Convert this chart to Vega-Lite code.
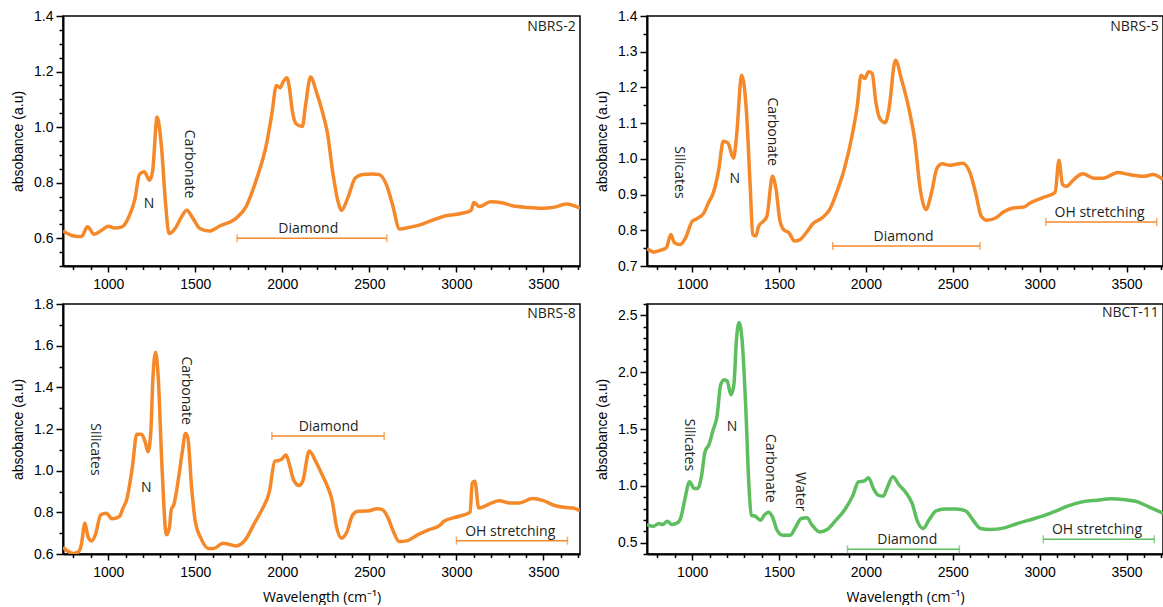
{
  "$schema": "https://vega.github.io/schema/vega-lite/v6.json",
  "padding": {"left": 10, "top": 8, "right": 0, "bottom": 0},
  "bounds": "flush",
  "columns": 2,
  "spacing": {"row": 38, "column": 67},
  "config": {
    "view": {"stroke": "#000", "strokeWidth": 1.5},
    "axis": {"domainColor": "#000", "domainWidth": 2, "tickColor": "#000", "tickWidth": 1.5, "labelFont": "Liberation Sans", "labelFontSize": 14, "labelColor": "#000", "titleFont": "Liberation Sans", "titleFontSize": 14, "titleFontWeight": "normal", "titleColor": "#000", "grid": false, "labelOverlap": false, "labelFlush": false},
    "text": {"font": "Open Sans", "fontSize": 14, "color": "#231F20"}
  },
  "datasets": {
    "spectra": [
      {"sample":"NBRS-2","w":740,"a":0.626},{"sample":"NBRS-2","w":802,"a":0.608},{"sample":"NBRS-2","w":845,"a":0.606},{"sample":"NBRS-2","w":881,"a":0.641},{"sample":"NBRS-2","w":919,"a":0.614},{"sample":"NBRS-2","w":962,"a":0.629},{"sample":"NBRS-2","w":1000,"a":0.643},{"sample":"NBRS-2","w":1036,"a":0.637},{"sample":"NBRS-2","w":1079,"a":0.641},{"sample":"NBRS-2","w":1121,"a":0.681},{"sample":"NBRS-2","w":1153,"a":0.741},{"sample":"NBRS-2","w":1179,"a":0.829},{"sample":"NBRS-2","w":1206,"a":0.839},{"sample":"NBRS-2","w":1238,"a":0.809},{"sample":"NBRS-2","w":1255,"a":0.843},{"sample":"NBRS-2","w":1281,"a":1.036},{"sample":"NBRS-2","w":1306,"a":0.927},{"sample":"NBRS-2","w":1328,"a":0.735},{"sample":"NBRS-2","w":1349,"a":0.617},{"sample":"NBRS-2","w":1387,"a":0.638},{"sample":"NBRS-2","w":1419,"a":0.675},{"sample":"NBRS-2","w":1451,"a":0.701},{"sample":"NBRS-2","w":1483,"a":0.675},{"sample":"NBRS-2","w":1526,"a":0.635},{"sample":"NBRS-2","w":1579,"a":0.626},{"sample":"NBRS-2","w":1643,"a":0.645},{"sample":"NBRS-2","w":1728,"a":0.669},{"sample":"NBRS-2","w":1791,"a":0.713},{"sample":"NBRS-2","w":1855,"a":0.819},{"sample":"NBRS-2","w":1909,"a":0.939},{"sample":"NBRS-2","w":1940,"a":1.048},{"sample":"NBRS-2","w":1966,"a":1.150},{"sample":"NBRS-2","w":1987,"a":1.142},{"sample":"NBRS-2","w":2004,"a":1.162},{"sample":"NBRS-2","w":2026,"a":1.178},{"sample":"NBRS-2","w":2040,"a":1.144},{"sample":"NBRS-2","w":2057,"a":1.060},{"sample":"NBRS-2","w":2079,"a":1.012},{"sample":"NBRS-2","w":2115,"a":1.002},{"sample":"NBRS-2","w":2132,"a":1.072},{"sample":"NBRS-2","w":2162,"a":1.180},{"sample":"NBRS-2","w":2196,"a":1.126},{"sample":"NBRS-2","w":2228,"a":1.060},{"sample":"NBRS-2","w":2260,"a":0.975},{"sample":"NBRS-2","w":2291,"a":0.831},{"sample":"NBRS-2","w":2319,"a":0.735},{"sample":"NBRS-2","w":2340,"a":0.701},{"sample":"NBRS-2","w":2377,"a":0.747},{"sample":"NBRS-2","w":2419,"a":0.817},{"sample":"NBRS-2","w":2462,"a":0.829},{"sample":"NBRS-2","w":2515,"a":0.831},{"sample":"NBRS-2","w":2557,"a":0.829},{"sample":"NBRS-2","w":2600,"a":0.789},{"sample":"NBRS-2","w":2632,"a":0.723},{"sample":"NBRS-2","w":2674,"a":0.633},{"sample":"NBRS-2","w":2728,"a":0.639},{"sample":"NBRS-2","w":2791,"a":0.648},{"sample":"NBRS-2","w":2855,"a":0.663},{"sample":"NBRS-2","w":2940,"a":0.681},{"sample":"NBRS-2","w":3026,"a":0.689},{"sample":"NBRS-2","w":3085,"a":0.701},{"sample":"NBRS-2","w":3100,"a":0.729},{"sample":"NBRS-2","w":3132,"a":0.714},{"sample":"NBRS-2","w":3196,"a":0.731},{"sample":"NBRS-2","w":3260,"a":0.728},{"sample":"NBRS-2","w":3323,"a":0.717},{"sample":"NBRS-2","w":3409,"a":0.711},{"sample":"NBRS-2","w":3494,"a":0.708},{"sample":"NBRS-2","w":3557,"a":0.711},{"sample":"NBRS-2","w":3632,"a":0.723},{"sample":"NBRS-2","w":3710,"a":0.708},

      {"sample":"NBRS-5","w":740,"a":0.749},{"sample":"NBRS-5","w":781,"a":0.739},{"sample":"NBRS-5","w":823,"a":0.745},{"sample":"NBRS-5","w":851,"a":0.751},{"sample":"NBRS-5","w":877,"a":0.788},{"sample":"NBRS-5","w":898,"a":0.765},{"sample":"NBRS-5","w":930,"a":0.760},{"sample":"NBRS-5","w":962,"a":0.779},{"sample":"NBRS-5","w":1000,"a":0.825},{"sample":"NBRS-5","w":1026,"a":0.832},{"sample":"NBRS-5","w":1068,"a":0.849},{"sample":"NBRS-5","w":1094,"a":0.877},{"sample":"NBRS-5","w":1121,"a":0.904},{"sample":"NBRS-5","w":1153,"a":0.970},{"sample":"NBRS-5","w":1179,"a":1.049},{"sample":"NBRS-5","w":1206,"a":1.044},{"sample":"NBRS-5","w":1238,"a":1.002},{"sample":"NBRS-5","w":1255,"a":1.062},{"sample":"NBRS-5","w":1285,"a":1.234},{"sample":"NBRS-5","w":1313,"a":1.128},{"sample":"NBRS-5","w":1334,"a":0.923},{"sample":"NBRS-5","w":1349,"a":0.788},{"sample":"NBRS-5","w":1366,"a":0.784},{"sample":"NBRS-5","w":1383,"a":0.812},{"sample":"NBRS-5","w":1409,"a":0.825},{"sample":"NBRS-5","w":1430,"a":0.839},{"sample":"NBRS-5","w":1462,"a":0.951},{"sample":"NBRS-5","w":1483,"a":0.914},{"sample":"NBRS-5","w":1504,"a":0.830},{"sample":"NBRS-5","w":1526,"a":0.802},{"sample":"NBRS-5","w":1557,"a":0.793},{"sample":"NBRS-5","w":1589,"a":0.770},{"sample":"NBRS-5","w":1621,"a":0.774},{"sample":"NBRS-5","w":1664,"a":0.798},{"sample":"NBRS-5","w":1696,"a":0.819},{"sample":"NBRS-5","w":1749,"a":0.835},{"sample":"NBRS-5","w":1791,"a":0.858},{"sample":"NBRS-5","w":1834,"a":0.909},{"sample":"NBRS-5","w":1877,"a":0.974},{"sample":"NBRS-5","w":1919,"a":1.062},{"sample":"NBRS-5","w":1951,"a":1.151},{"sample":"NBRS-5","w":1972,"a":1.234},{"sample":"NBRS-5","w":1994,"a":1.225},{"sample":"NBRS-5","w":2015,"a":1.244},{"sample":"NBRS-5","w":2036,"a":1.239},{"sample":"NBRS-5","w":2057,"a":1.160},{"sample":"NBRS-5","w":2079,"a":1.114},{"sample":"NBRS-5","w":2111,"a":1.101},{"sample":"NBRS-5","w":2132,"a":1.137},{"sample":"NBRS-5","w":2170,"a":1.276},{"sample":"NBRS-5","w":2206,"a":1.220},{"sample":"NBRS-5","w":2249,"a":1.137},{"sample":"NBRS-5","w":2281,"a":1.053},{"sample":"NBRS-5","w":2313,"a":0.914},{"sample":"NBRS-5","w":2345,"a":0.858},{"sample":"NBRS-5","w":2377,"a":0.904},{"sample":"NBRS-5","w":2409,"a":0.974},{"sample":"NBRS-5","w":2440,"a":0.986},{"sample":"NBRS-5","w":2483,"a":0.982},{"sample":"NBRS-5","w":2557,"a":0.988},{"sample":"NBRS-5","w":2600,"a":0.960},{"sample":"NBRS-5","w":2632,"a":0.904},{"sample":"NBRS-5","w":2664,"a":0.839},{"sample":"NBRS-5","w":2696,"a":0.828},{"sample":"NBRS-5","w":2749,"a":0.835},{"sample":"NBRS-5","w":2791,"a":0.851},{"sample":"NBRS-5","w":2855,"a":0.863},{"sample":"NBRS-5","w":2909,"a":0.865},{"sample":"NBRS-5","w":2940,"a":0.875},{"sample":"NBRS-5","w":3015,"a":0.891},{"sample":"NBRS-5","w":3089,"a":0.906},{"sample":"NBRS-5","w":3111,"a":0.996},{"sample":"NBRS-5","w":3132,"a":0.928},{"sample":"NBRS-5","w":3153,"a":0.923},{"sample":"NBRS-5","w":3196,"a":0.942},{"sample":"NBRS-5","w":3249,"a":0.958},{"sample":"NBRS-5","w":3313,"a":0.946},{"sample":"NBRS-5","w":3366,"a":0.946},{"sample":"NBRS-5","w":3451,"a":0.962},{"sample":"NBRS-5","w":3515,"a":0.956},{"sample":"NBRS-5","w":3600,"a":0.951},{"sample":"NBRS-5","w":3653,"a":0.956},{"sample":"NBRS-5","w":3710,"a":0.942},

      {"sample":"NBRS-8","w":740,"a":0.632},{"sample":"NBRS-8","w":766,"a":0.614},{"sample":"NBRS-8","w":798,"a":0.603},{"sample":"NBRS-8","w":830,"a":0.611},{"sample":"NBRS-8","w":845,"a":0.643},{"sample":"NBRS-8","w":866,"a":0.748},{"sample":"NBRS-8","w":883,"a":0.684},{"sample":"NBRS-8","w":904,"a":0.663},{"sample":"NBRS-8","w":926,"a":0.692},{"sample":"NBRS-8","w":957,"a":0.788},{"sample":"NBRS-8","w":989,"a":0.796},{"sample":"NBRS-8","w":1021,"a":0.769},{"sample":"NBRS-8","w":1064,"a":0.780},{"sample":"NBRS-8","w":1085,"a":0.821},{"sample":"NBRS-8","w":1106,"a":0.861},{"sample":"NBRS-8","w":1138,"a":1.014},{"sample":"NBRS-8","w":1164,"a":1.175},{"sample":"NBRS-8","w":1191,"a":1.175},{"sample":"NBRS-8","w":1213,"a":1.135},{"sample":"NBRS-8","w":1228,"a":1.091},{"sample":"NBRS-8","w":1245,"a":1.191},{"sample":"NBRS-8","w":1255,"a":1.416},{"sample":"NBRS-8","w":1272,"a":1.569},{"sample":"NBRS-8","w":1287,"a":1.449},{"sample":"NBRS-8","w":1309,"a":1.014},{"sample":"NBRS-8","w":1334,"a":0.692},{"sample":"NBRS-8","w":1351,"a":0.724},{"sample":"NBRS-8","w":1362,"a":0.813},{"sample":"NBRS-8","w":1377,"a":0.837},{"sample":"NBRS-8","w":1404,"a":0.966},{"sample":"NBRS-8","w":1426,"a":1.094},{"sample":"NBRS-8","w":1443,"a":1.178},{"sample":"NBRS-8","w":1457,"a":1.159},{"sample":"NBRS-8","w":1479,"a":0.917},{"sample":"NBRS-8","w":1500,"a":0.756},{"sample":"NBRS-8","w":1532,"a":0.676},{"sample":"NBRS-8","w":1574,"a":0.627},{"sample":"NBRS-8","w":1606,"a":0.627},{"sample":"NBRS-8","w":1660,"a":0.652},{"sample":"NBRS-8","w":1691,"a":0.647},{"sample":"NBRS-8","w":1734,"a":0.639},{"sample":"NBRS-8","w":1787,"a":0.668},{"sample":"NBRS-8","w":1840,"a":0.748},{"sample":"NBRS-8","w":1883,"a":0.813},{"sample":"NBRS-8","w":1926,"a":0.901},{"sample":"NBRS-8","w":1957,"a":1.046},{"sample":"NBRS-8","w":1979,"a":1.049},{"sample":"NBRS-8","w":1994,"a":1.054},{"sample":"NBRS-8","w":2021,"a":1.075},{"sample":"NBRS-8","w":2043,"a":1.022},{"sample":"NBRS-8","w":2064,"a":0.957},{"sample":"NBRS-8","w":2096,"a":0.929},{"sample":"NBRS-8","w":2117,"a":0.949},{"sample":"NBRS-8","w":2155,"a":1.094},{"sample":"NBRS-8","w":2191,"a":1.046},{"sample":"NBRS-8","w":2223,"a":0.990},{"sample":"NBRS-8","w":2255,"a":0.933},{"sample":"NBRS-8","w":2287,"a":0.853},{"sample":"NBRS-8","w":2313,"a":0.724},{"sample":"NBRS-8","w":2340,"a":0.676},{"sample":"NBRS-8","w":2372,"a":0.708},{"sample":"NBRS-8","w":2404,"a":0.788},{"sample":"NBRS-8","w":2436,"a":0.805},{"sample":"NBRS-8","w":2500,"a":0.808},{"sample":"NBRS-8","w":2543,"a":0.817},{"sample":"NBRS-8","w":2574,"a":0.813},{"sample":"NBRS-8","w":2606,"a":0.776},{"sample":"NBRS-8","w":2638,"a":0.708},{"sample":"NBRS-8","w":2670,"a":0.660},{"sample":"NBRS-8","w":2713,"a":0.663},{"sample":"NBRS-8","w":2777,"a":0.692},{"sample":"NBRS-8","w":2840,"a":0.716},{"sample":"NBRS-8","w":2904,"a":0.737},{"sample":"NBRS-8","w":2926,"a":0.756},{"sample":"NBRS-8","w":3011,"a":0.780},{"sample":"NBRS-8","w":3079,"a":0.801},{"sample":"NBRS-8","w":3091,"a":0.941},{"sample":"NBRS-8","w":3106,"a":0.949},{"sample":"NBRS-8","w":3128,"a":0.821},{"sample":"NBRS-8","w":3160,"a":0.829},{"sample":"NBRS-8","w":3202,"a":0.845},{"sample":"NBRS-8","w":3245,"a":0.856},{"sample":"NBRS-8","w":3309,"a":0.845},{"sample":"NBRS-8","w":3362,"a":0.845},{"sample":"NBRS-8","w":3436,"a":0.866},{"sample":"NBRS-8","w":3500,"a":0.856},{"sample":"NBRS-8","w":3564,"a":0.833},{"sample":"NBRS-8","w":3617,"a":0.824},{"sample":"NBRS-8","w":3670,"a":0.821},{"sample":"NBRS-8","w":3710,"a":0.808},

      {"sample":"NBCT-11","w":740,"a":0.659},{"sample":"NBCT-11","w":777,"a":0.644},{"sample":"NBCT-11","w":809,"a":0.668},{"sample":"NBCT-11","w":830,"a":0.659},{"sample":"NBCT-11","w":857,"a":0.689},{"sample":"NBCT-11","w":883,"a":0.659},{"sample":"NBCT-11","w":915,"a":0.674},{"sample":"NBCT-11","w":936,"a":0.727},{"sample":"NBCT-11","w":957,"a":0.874},{"sample":"NBCT-11","w":985,"a":1.036},{"sample":"NBCT-11","w":1011,"a":0.977},{"sample":"NBCT-11","w":1032,"a":0.977},{"sample":"NBCT-11","w":1053,"a":1.080},{"sample":"NBCT-11","w":1074,"a":1.301},{"sample":"NBCT-11","w":1096,"a":1.360},{"sample":"NBCT-11","w":1121,"a":1.493},{"sample":"NBCT-11","w":1143,"a":1.610},{"sample":"NBCT-11","w":1164,"a":1.890},{"sample":"NBCT-11","w":1185,"a":1.934},{"sample":"NBCT-11","w":1202,"a":1.920},{"sample":"NBCT-11","w":1223,"a":1.802},{"sample":"NBCT-11","w":1240,"a":1.890},{"sample":"NBCT-11","w":1255,"a":2.288},{"sample":"NBCT-11","w":1270,"a":2.435},{"sample":"NBCT-11","w":1287,"a":2.288},{"sample":"NBCT-11","w":1309,"a":1.669},{"sample":"NBCT-11","w":1326,"a":1.021},{"sample":"NBCT-11","w":1340,"a":0.742},{"sample":"NBCT-11","w":1362,"a":0.733},{"sample":"NBCT-11","w":1394,"a":0.697},{"sample":"NBCT-11","w":1415,"a":0.742},{"sample":"NBCT-11","w":1440,"a":0.768},{"sample":"NBCT-11","w":1462,"a":0.727},{"sample":"NBCT-11","w":1489,"a":0.609},{"sample":"NBCT-11","w":1521,"a":0.565},{"sample":"NBCT-11","w":1564,"a":0.565},{"sample":"NBCT-11","w":1596,"a":0.638},{"sample":"NBCT-11","w":1628,"a":0.712},{"sample":"NBCT-11","w":1660,"a":0.718},{"sample":"NBCT-11","w":1691,"a":0.653},{"sample":"NBCT-11","w":1734,"a":0.594},{"sample":"NBCT-11","w":1777,"a":0.615},{"sample":"NBCT-11","w":1819,"a":0.683},{"sample":"NBCT-11","w":1883,"a":0.800},{"sample":"NBCT-11","w":1926,"a":0.918},{"sample":"NBCT-11","w":1957,"a":1.036},{"sample":"NBCT-11","w":1989,"a":1.042},{"sample":"NBCT-11","w":2015,"a":1.071},{"sample":"NBCT-11","w":2043,"a":0.977},{"sample":"NBCT-11","w":2070,"a":0.918},{"sample":"NBCT-11","w":2100,"a":0.909},{"sample":"NBCT-11","w":2121,"a":0.977},{"sample":"NBCT-11","w":2155,"a":1.080},{"sample":"NBCT-11","w":2191,"a":1.007},{"sample":"NBCT-11","w":2234,"a":0.933},{"sample":"NBCT-11","w":2266,"a":0.845},{"sample":"NBCT-11","w":2298,"a":0.683},{"sample":"NBCT-11","w":2330,"a":0.624},{"sample":"NBCT-11","w":2362,"a":0.697},{"sample":"NBCT-11","w":2404,"a":0.780},{"sample":"NBCT-11","w":2457,"a":0.795},{"sample":"NBCT-11","w":2521,"a":0.797},{"sample":"NBCT-11","w":2574,"a":0.780},{"sample":"NBCT-11","w":2617,"a":0.697},{"sample":"NBCT-11","w":2660,"a":0.624},{"sample":"NBCT-11","w":2713,"a":0.615},{"sample":"NBCT-11","w":2798,"a":0.630},{"sample":"NBCT-11","w":2883,"a":0.674},{"sample":"NBCT-11","w":2957,"a":0.706},{"sample":"NBCT-11","w":3032,"a":0.742},{"sample":"NBCT-11","w":3096,"a":0.780},{"sample":"NBCT-11","w":3160,"a":0.821},{"sample":"NBCT-11","w":3245,"a":0.859},{"sample":"NBCT-11","w":3330,"a":0.874},{"sample":"NBCT-11","w":3415,"a":0.886},{"sample":"NBCT-11","w":3479,"a":0.880},{"sample":"NBCT-11","w":3564,"a":0.859},{"sample":"NBCT-11","w":3628,"a":0.815},{"sample":"NBCT-11","w":3710,"a":0.760}
    ],
    "notes": [
      {"sample":"NBRS-2","kind":"band","label":"Carbonate","x":1462,"y":0.867},
      {"sample":"NBRS-2","kind":"nitrogen","label":"N","x":1234,"y":0.723},
      {"sample":"NBRS-2","kind":"region","label":"Diamond","x":2149,"y":0.632},
      {"sample":"NBRS-2","kind":"sample","label":"NBRS-2","x":3685,"y":1.36},
      {"sample":"NBRS-5","kind":"band","label":"Silicates","x":923,"y":0.962},
      {"sample":"NBRS-5","kind":"nitrogen","label":"N","x":1245,"y":0.943},
      {"sample":"NBRS-5","kind":"band","label":"Carbonate","x":1462,"y":1.076},
      {"sample":"NBRS-5","kind":"region","label":"Diamond","x":2217,"y":0.781},
      {"sample":"NBRS-5","kind":"region","label":"OH stretching","x":3345,"y":0.849},
      {"sample":"NBRS-5","kind":"sample","label":"NBRS-5","x":3685,"y":1.369},
      {"sample":"NBRS-8","kind":"band","label":"Silicates","x":921,"y":1.102},
      {"sample":"NBRS-8","kind":"nitrogen","label":"N","x":1219,"y":0.917},
      {"sample":"NBRS-8","kind":"band","label":"Carbonate","x":1447,"y":1.384},
      {"sample":"NBRS-8","kind":"region","label":"Diamond","x":2266,"y":1.21},
      {"sample":"NBRS-8","kind":"region","label":"OH stretching","x":3309,"y":0.705},
      {"sample":"NBRS-8","kind":"sample","label":"NBRS-8","x":3685,"y":1.751},
      {"sample":"NBCT-11","kind":"band","label":"Silicates","x":979,"y":1.36},
      {"sample":"NBCT-11","kind":"nitrogen","label":"N","x":1230,"y":1.522},
      {"sample":"NBCT-11","kind":"band","label":"Carbonate","x":1447,"y":1.154},
      {"sample":"NBCT-11","kind":"band","label":"Water","x":1621,"y":0.948},
      {"sample":"NBCT-11","kind":"region","label":"Diamond","x":2238,"y":0.521},
      {"sample":"NBCT-11","kind":"region","label":"OH stretching","x":3330,"y":0.609},
      {"sample":"NBCT-11","kind":"sample","label":"NBCT-11","x":3685,"y":2.518}
    ],
    "regions": [
      {"sample":"NBRS-2","label":"Diamond","start":1740,"end":2600,"y":0.6},
      {"sample":"NBRS-5","label":"Diamond","start":1809,"end":2657,"y":0.756},
      {"sample":"NBRS-5","label":"OH stretching","start":3036,"end":3674,"y":0.823},
      {"sample":"NBRS-8","label":"Diamond","start":1940,"end":2585,"y":1.167},
      {"sample":"NBRS-8","label":"OH stretching","start":3000,"end":3638,"y":0.664},
      {"sample":"NBCT-11","label":"Diamond","start":1894,"end":2538,"y":0.441},
      {"sample":"NBCT-11","label":"OH stretching","start":3021,"end":3660,"y":0.529}
    ]
  },
  "concat": [
    {
      "width": 517, "height": 250,
      "resolve": {"axis": {"x": "independent", "y": "independent"}},
      "layer": [
        {"data": {"name": "spectra"}, "transform": [{"filter": "datum.sample === 'NBRS-2'"}],
         "mark": {"type": "line", "color": "#F5892A", "strokeWidth": 3.5, "interpolate": "monotone", "clip": true, "strokeJoin": "round"},
         "encoding": {
           "x": {"field": "w", "type": "quantitative", "scale": {"domain": [740, 3710], "nice": false, "zero": false},
                 "axis": {"title": null, "labelOverlap": false, "values": [800,900,1000,1100,1200,1300,1400,1500,1600,1700,1800,1900,2000,2100,2200,2300,2400,2500,2600,2700,2800,2900,3000,3100,3200,3300,3400,3500,3600,3700], "labelExpr": "datum.value % 500 === 0 ? format(datum.value, 'd') : ''", "labelFontSize": {"condition": {"test": "datum.value % 500 === 0", "value": 14}, "value": 0}, "tickSize": {"condition": {"test": "datum.value % 500 === 0", "value": 6}, "value": 3.5}, "labelPadding": 5}},
           "y": {"field": "a", "type": "quantitative", "scale": {"domain": [0.5, 1.4], "nice": false, "zero": false},
                 "axis": {"title": "absobance (a.u)", "labelOverlap": false, "titlePadding": 8, "values": [0.5,0.55,0.6,0.65,0.7,0.75,0.8,0.85,0.9,0.95,1.0,1.05,1.1,1.15,1.2,1.25,1.3,1.35,1.4], "labelExpr": "abs(datum.value*5 - round(datum.value*5)) < 0.001 ? format(datum.value, '.1f') : ''", "labelFontSize": {"condition": {"test": "abs(datum.value*5 - round(datum.value*5)) < 0.001", "value": 14}, "value": 0}, "tickSize": {"condition": {"test": "abs(datum.value*5 - round(datum.value*5)) < 0.001", "value": 7}, "value": 4}, "labelPadding": 3}}
         }},
        {"data": {"name": "notes"}, "transform": [{"filter": "datum.sample === 'NBRS-2' && datum.kind === 'band'"}],
         "mark": {"type": "text", "angle": 90}, "encoding": {"x": {"field": "x", "type": "quantitative", "axis": null}, "y": {"field": "y", "type": "quantitative", "axis": null}, "text": {"field": "label"}}},
        {"data": {"name": "notes"}, "transform": [{"filter": "datum.sample === 'NBRS-2' && (datum.kind === 'nitrogen' || datum.kind === 'region')"}],
         "mark": {"type": "text"}, "encoding": {"x": {"field": "x", "type": "quantitative", "axis": null}, "y": {"field": "y", "type": "quantitative", "axis": null}, "text": {"field": "label"}}},
        {"data": {"name": "notes"}, "transform": [{"filter": "datum.sample === 'NBRS-2' && datum.kind === 'sample'"}],
         "mark": {"type": "text", "align": "right"}, "encoding": {"x": {"field": "x", "type": "quantitative", "axis": null}, "y": {"field": "y", "type": "quantitative", "axis": null}, "text": {"field": "label"}}},
        {"data": {"name": "regions"}, "transform": [{"filter": "datum.sample === 'NBRS-2'"}],
         "mark": {"type": "rule", "color": "#F5892A", "strokeWidth": 1.5}, "encoding": {"x": {"field": "start", "type": "quantitative", "axis": null}, "x2": {"field": "end"}, "y": {"field": "y", "type": "quantitative", "axis": null}}},
        {"data": {"name": "regions"}, "transform": [{"filter": "datum.sample === 'NBRS-2'"}, {"fold": ["start", "end"], "as": ["edge", "pos"]}],
         "mark": {"type": "tick", "orient": "vertical", "color": "#F5892A", "size": 8, "thickness": 1.5}, "encoding": {"x": {"field": "pos", "type": "quantitative", "axis": null}, "y": {"field": "y", "type": "quantitative", "axis": null}}}
      ]
    },
    {
      "width": 516, "height": 250,
      "resolve": {"axis": {"x": "independent", "y": "independent"}},
      "layer": [
        {"data": {"name": "spectra"}, "transform": [{"filter": "datum.sample === 'NBRS-5'"}],
         "mark": {"type": "line", "color": "#F5892A", "strokeWidth": 3.5, "interpolate": "monotone", "clip": true, "strokeJoin": "round"},
         "encoding": {
           "x": {"field": "w", "type": "quantitative", "scale": {"domain": [740, 3710], "nice": false, "zero": false},
                 "axis": {"title": null, "labelOverlap": false, "values": [800,900,1000,1100,1200,1300,1400,1500,1600,1700,1800,1900,2000,2100,2200,2300,2400,2500,2600,2700,2800,2900,3000,3100,3200,3300,3400,3500,3600,3700], "labelExpr": "datum.value % 500 === 0 ? format(datum.value, 'd') : ''", "labelFontSize": {"condition": {"test": "datum.value % 500 === 0", "value": 14}, "value": 0}, "tickSize": {"condition": {"test": "datum.value % 500 === 0", "value": 6}, "value": 3.5}, "labelPadding": 5}},
           "y": {"field": "a", "type": "quantitative", "scale": {"domain": [0.7, 1.4], "nice": false, "zero": false},
                 "axis": {"title": "absobance (a.u)", "labelOverlap": false, "titlePadding": 8, "values": [0.7,0.75,0.8,0.85,0.9,0.95,1.0,1.05,1.1,1.15,1.2,1.25,1.3,1.35,1.4], "labelExpr": "abs(datum.value*10 - round(datum.value*10)) < 0.001 ? format(datum.value, '.1f') : ''", "labelFontSize": {"condition": {"test": "abs(datum.value*10 - round(datum.value*10)) < 0.001", "value": 14}, "value": 0}, "tickSize": {"condition": {"test": "abs(datum.value*10 - round(datum.value*10)) < 0.001", "value": 7}, "value": 4}, "labelPadding": 3}}
         }},
        {"data": {"name": "notes"}, "transform": [{"filter": "datum.sample === 'NBRS-5' && datum.kind === 'band'"}],
         "mark": {"type": "text", "angle": 90}, "encoding": {"x": {"field": "x", "type": "quantitative", "axis": null}, "y": {"field": "y", "type": "quantitative", "axis": null}, "text": {"field": "label"}}},
        {"data": {"name": "notes"}, "transform": [{"filter": "datum.sample === 'NBRS-5' && (datum.kind === 'nitrogen' || datum.kind === 'region')"}],
         "mark": {"type": "text"}, "encoding": {"x": {"field": "x", "type": "quantitative", "axis": null}, "y": {"field": "y", "type": "quantitative", "axis": null}, "text": {"field": "label"}}},
        {"data": {"name": "notes"}, "transform": [{"filter": "datum.sample === 'NBRS-5' && datum.kind === 'sample'"}],
         "mark": {"type": "text", "align": "right"}, "encoding": {"x": {"field": "x", "type": "quantitative", "axis": null}, "y": {"field": "y", "type": "quantitative", "axis": null}, "text": {"field": "label"}}},
        {"data": {"name": "regions"}, "transform": [{"filter": "datum.sample === 'NBRS-5'"}],
         "mark": {"type": "rule", "color": "#F5892A", "strokeWidth": 1.5}, "encoding": {"x": {"field": "start", "type": "quantitative", "axis": null}, "x2": {"field": "end"}, "y": {"field": "y", "type": "quantitative", "axis": null}}},
        {"data": {"name": "regions"}, "transform": [{"filter": "datum.sample === 'NBRS-5'"}, {"fold": ["start", "end"], "as": ["edge", "pos"]}],
         "mark": {"type": "tick", "orient": "vertical", "color": "#F5892A", "size": 8, "thickness": 1.5}, "encoding": {"x": {"field": "pos", "type": "quantitative", "axis": null}, "y": {"field": "y", "type": "quantitative", "axis": null}}}
      ]
    },
    {
      "width": 517, "height": 250,
      "resolve": {"axis": {"x": "independent", "y": "independent"}},
      "layer": [
        {"data": {"name": "spectra"}, "transform": [{"filter": "datum.sample === 'NBRS-8'"}],
         "mark": {"type": "line", "color": "#F5892A", "strokeWidth": 3.5, "interpolate": "monotone", "clip": true, "strokeJoin": "round"},
         "encoding": {
           "x": {"field": "w", "type": "quantitative", "scale": {"domain": [740, 3710], "nice": false, "zero": false},
                 "axis": {"title": "Wavelength (cm⁻¹)", "labelOverlap": false, "titleFont": "Open Sans", "titlePadding": 11, "values": [800,900,1000,1100,1200,1300,1400,1500,1600,1700,1800,1900,2000,2100,2200,2300,2400,2500,2600,2700,2800,2900,3000,3100,3200,3300,3400,3500,3600,3700], "labelExpr": "datum.value % 500 === 0 ? format(datum.value, 'd') : ''", "labelFontSize": {"condition": {"test": "datum.value % 500 === 0", "value": 14}, "value": 0}, "tickSize": {"condition": {"test": "datum.value % 500 === 0", "value": 6}, "value": 3.5}, "labelPadding": 5}},
           "y": {"field": "a", "type": "quantitative", "scale": {"domain": [0.6, 1.8], "nice": false, "zero": false},
                 "axis": {"title": "absobance (a.u)", "labelOverlap": false, "titlePadding": 8, "values": [0.6,0.7,0.8,0.9,1.0,1.1,1.2,1.3,1.4,1.5,1.6,1.7,1.8], "labelExpr": "abs(datum.value*5 - round(datum.value*5)) < 0.001 ? format(datum.value, '.1f') : ''", "labelFontSize": {"condition": {"test": "abs(datum.value*5 - round(datum.value*5)) < 0.001", "value": 14}, "value": 0}, "tickSize": {"condition": {"test": "abs(datum.value*5 - round(datum.value*5)) < 0.001", "value": 7}, "value": 4}, "labelPadding": 3}}
         }},
        {"data": {"name": "notes"}, "transform": [{"filter": "datum.sample === 'NBRS-8' && datum.kind === 'band'"}],
         "mark": {"type": "text", "angle": 90}, "encoding": {"x": {"field": "x", "type": "quantitative", "axis": null}, "y": {"field": "y", "type": "quantitative", "axis": null}, "text": {"field": "label"}}},
        {"data": {"name": "notes"}, "transform": [{"filter": "datum.sample === 'NBRS-8' && (datum.kind === 'nitrogen' || datum.kind === 'region')"}],
         "mark": {"type": "text"}, "encoding": {"x": {"field": "x", "type": "quantitative", "axis": null}, "y": {"field": "y", "type": "quantitative", "axis": null}, "text": {"field": "label"}}},
        {"data": {"name": "notes"}, "transform": [{"filter": "datum.sample === 'NBRS-8' && datum.kind === 'sample'"}],
         "mark": {"type": "text", "align": "right"}, "encoding": {"x": {"field": "x", "type": "quantitative", "axis": null}, "y": {"field": "y", "type": "quantitative", "axis": null}, "text": {"field": "label"}}},
        {"data": {"name": "regions"}, "transform": [{"filter": "datum.sample === 'NBRS-8'"}],
         "mark": {"type": "rule", "color": "#F5892A", "strokeWidth": 1.5}, "encoding": {"x": {"field": "start", "type": "quantitative", "axis": null}, "x2": {"field": "end"}, "y": {"field": "y", "type": "quantitative", "axis": null}}},
        {"data": {"name": "regions"}, "transform": [{"filter": "datum.sample === 'NBRS-8'"}, {"fold": ["start", "end"], "as": ["edge", "pos"]}],
         "mark": {"type": "tick", "orient": "vertical", "color": "#F5892A", "size": 8, "thickness": 1.5}, "encoding": {"x": {"field": "pos", "type": "quantitative", "axis": null}, "y": {"field": "y", "type": "quantitative", "axis": null}}}
      ]
    },
    {
      "width": 516, "height": 250,
      "resolve": {"axis": {"x": "independent", "y": "independent"}},
      "layer": [
        {"data": {"name": "spectra"}, "transform": [{"filter": "datum.sample === 'NBCT-11'"}],
         "mark": {"type": "line", "color": "#5DBE5E", "strokeWidth": 3.5, "interpolate": "monotone", "clip": true, "strokeJoin": "round"},
         "encoding": {
           "x": {"field": "w", "type": "quantitative", "scale": {"domain": [740, 3710], "nice": false, "zero": false},
                 "axis": {"title": "Wavelength (cm⁻¹)", "labelOverlap": false, "titleFont": "Open Sans", "titlePadding": 11, "values": [800,900,1000,1100,1200,1300,1400,1500,1600,1700,1800,1900,2000,2100,2200,2300,2400,2500,2600,2700,2800,2900,3000,3100,3200,3300,3400,3500,3600,3700], "labelExpr": "datum.value % 500 === 0 ? format(datum.value, 'd') : ''", "labelFontSize": {"condition": {"test": "datum.value % 500 === 0", "value": 14}, "value": 0}, "tickSize": {"condition": {"test": "datum.value % 500 === 0", "value": 6}, "value": 3.5}, "labelPadding": 5}},
           "y": {"field": "a", "type": "quantitative", "scale": {"domain": [0.4, 2.6], "nice": false, "zero": false},
                 "axis": {"title": "absobance (a.u)", "labelOverlap": false, "titlePadding": 8, "values": [0.4,0.5,0.6,0.7,0.8,0.9,1.0,1.1,1.2,1.3,1.4,1.5,1.6,1.7,1.8,1.9,2.0,2.1,2.2,2.3,2.4,2.5,2.6], "labelExpr": "abs(datum.value*2 - round(datum.value*2)) < 0.001 ? format(datum.value, '.1f') : ''", "labelFontSize": {"condition": {"test": "abs(datum.value*2 - round(datum.value*2)) < 0.001", "value": 14}, "value": 0}, "tickSize": {"condition": {"test": "abs(datum.value*2 - round(datum.value*2)) < 0.001", "value": 7}, "value": 4}, "labelPadding": 3}}
         }},
        {"data": {"name": "notes"}, "transform": [{"filter": "datum.sample === 'NBCT-11' && datum.kind === 'band'"}],
         "mark": {"type": "text", "angle": 90}, "encoding": {"x": {"field": "x", "type": "quantitative", "axis": null}, "y": {"field": "y", "type": "quantitative", "axis": null}, "text": {"field": "label"}}},
        {"data": {"name": "notes"}, "transform": [{"filter": "datum.sample === 'NBCT-11' && (datum.kind === 'nitrogen' || datum.kind === 'region')"}],
         "mark": {"type": "text"}, "encoding": {"x": {"field": "x", "type": "quantitative", "axis": null}, "y": {"field": "y", "type": "quantitative", "axis": null}, "text": {"field": "label"}}},
        {"data": {"name": "notes"}, "transform": [{"filter": "datum.sample === 'NBCT-11' && datum.kind === 'sample'"}],
         "mark": {"type": "text", "align": "right"}, "encoding": {"x": {"field": "x", "type": "quantitative", "axis": null}, "y": {"field": "y", "type": "quantitative", "axis": null}, "text": {"field": "label"}}},
        {"data": {"name": "regions"}, "transform": [{"filter": "datum.sample === 'NBCT-11'"}],
         "mark": {"type": "rule", "color": "#5DBE5E", "strokeWidth": 1.5}, "encoding": {"x": {"field": "start", "type": "quantitative", "axis": null}, "x2": {"field": "end"}, "y": {"field": "y", "type": "quantitative", "axis": null}}},
        {"data": {"name": "regions"}, "transform": [{"filter": "datum.sample === 'NBCT-11'"}, {"fold": ["start", "end"], "as": ["edge", "pos"]}],
         "mark": {"type": "tick", "orient": "vertical", "color": "#5DBE5E", "size": 8, "thickness": 1.5}, "encoding": {"x": {"field": "pos", "type": "quantitative", "axis": null}, "y": {"field": "y", "type": "quantitative", "axis": null}}}
      ]
    }
  ]
}
